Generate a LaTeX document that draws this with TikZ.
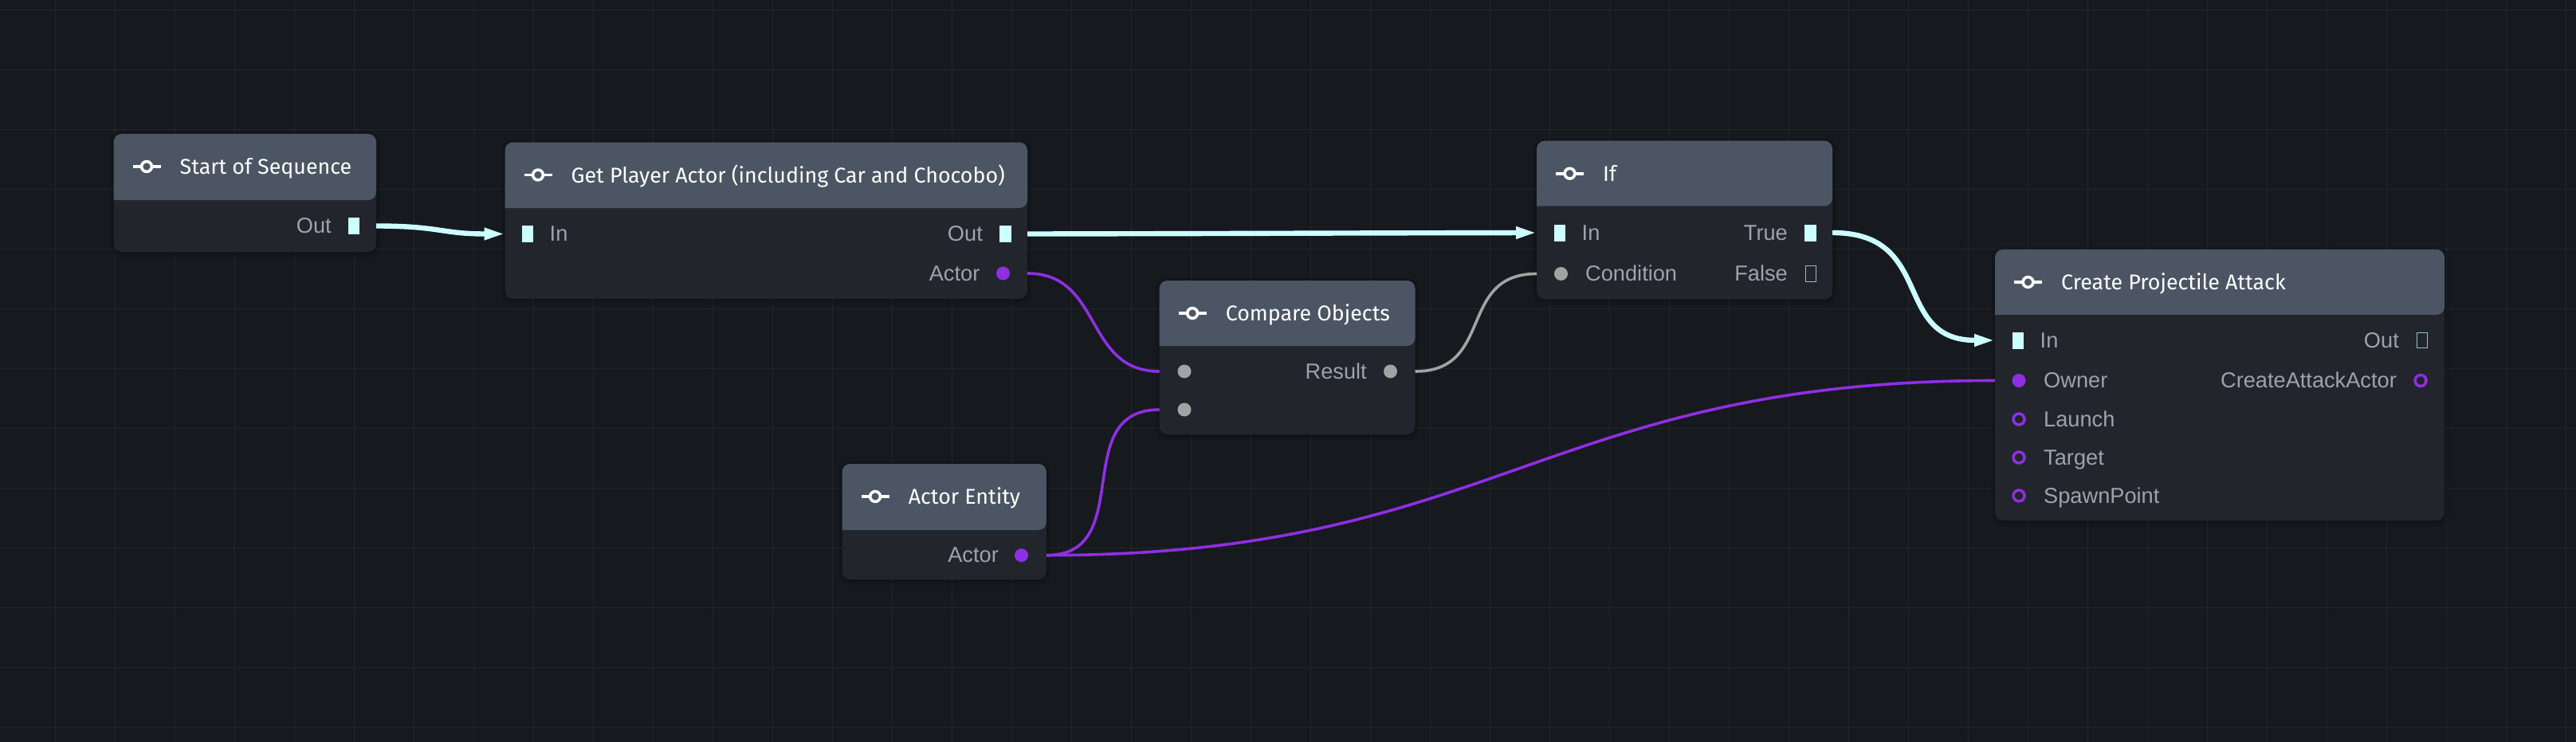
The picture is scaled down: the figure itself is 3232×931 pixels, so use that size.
\documentclass[tikz,border=0pt]{standalone}
\usepackage{fontspec}
\setmainfont{Liberation Sans}
\newfontfamily\titlefont{Fira Sans}
\usetikzlibrary{arrows.meta}
\definecolor{bgc}{HTML}{16191E}
\definecolor{gridc}{HTML}{22262C}
\definecolor{headc}{HTML}{4B5563}
\definecolor{bodyc}{HTML}{22252C}
\definecolor{labelc}{HTML}{9CA3AF}
\definecolor{execc}{HTML}{CCFFFF}
\definecolor{purplec}{HTML}{8F2FE3}
\definecolor{greyc}{HTML}{A3A3A3}
\tikzset{
  x=1pt,y=-1pt,
  titletext/.style={text=white,inner sep=0pt,anchor=base west,font=\titlefont\fontsize{26.8}{30}\selectfont},
  labelL/.style={text=labelc,inner sep=0pt,anchor=base west,font=\fontsize{27.2}{30}\selectfont},
  labelR/.style={text=labelc,inner sep=0pt,anchor=base east,font=\fontsize{27.2}{30}\selectfont},
  execport/.style={fill=execc,draw=none,inner sep=0pt,minimum width=14.5pt,minimum height=21pt,rectangle},
  execopen/.style={fill=none,draw=execc!75!black,line width=1.4pt,inner sep=0pt,minimum width=13pt,minimum height=19.5pt,rectangle},
  dotport/.style={circle,inner sep=0pt,minimum size=17pt,fill=#1,draw=none},
  ringport/.style={circle,inner sep=0pt,minimum size=14pt,draw=#1,line width=3.5pt,fill=none},
  execedge/.style={draw=execc,line width=6.4pt,-{Triangle[length=26pt,width=14pt,fill=execc]}},
  dataedge/.style={draw=#1,line width=3.6pt},
  gridline/.style={gridc,line width=1.2pt},
}
\newcommand{\gnode}[7]{% name, left, top, right, headbottom, bottom, title
  \fill[black,opacity=.10,rounded corners=14pt] (#2-5,#3-3) rectangle (#4+5,#6+7);
  \fill[black,opacity=.10,rounded corners=12pt] (#2-2,#3-1) rectangle (#4+2,#6+3);
  \fill[bodyc,rounded corners=10pt] (#2,#3) rectangle (#4,#6);
  \fill[headc,rounded corners=10pt] (#2,#5) -- (#2,#3) -- (#4,#3) -- (#4,#5) [sharp corners] -- cycle;
  \draw[white,line width=3.6pt] (#2+24,#3+41) -- (#2+59,#3+41);
  \node[circle,fill=headc,draw=white,line width=3.6pt,minimum size=12.8pt,inner sep=0pt] (#1icon) at (#2+41.5,#3+41) {};
  \node[titletext] (#1title) at (#2+83,#3+50.5) {#7};
}
\begin{document}
\begin{tikzpicture}
\useasboundingbox (0,0) rectangle (3232,931);
\fill[bgc] (0,0) rectangle (3232,931);
\foreach \gx in {0,...,42} \draw[gridline] (69.5+75*\gx,0) -- (69.5+75*\gx,931);
\foreach \gy in {0,...,12} \draw[gridline] (0,12.7+75*\gy) -- (3232,12.7+75*\gy);

\gnode{start}{142.5}{168}{472}{251}{316}{Start of Sequence}
\gnode{player}{633.5}{178.5}{1289}{261}{375}{Get Player Actor (including Car and Chocobo)}
\gnode{compare}{1454.6}{352}{1775.5}{434}{545}{Compare Objects}
\gnode{entity}{1056.6}{582}{1312.8}{665}{727}{Actor Entity}
\gnode{iff}{1928}{176.7}{2299}{258.7}{375.7}{If}
\gnode{attack}{2503}{313}{3067}{395}{653}{Create Projectile Attack}

% start
\node[labelR] (l1) at (416,292) {Out};
\node[execport] (p1) at (444,283.5) {};
% player
\node[execport] (p2) at (662,293.5) {};
\node[labelL] (l2) at (689.5,302) {In};
\node[labelR] (l3) at (1233,302) {Out};
\node[execport] (p3) at (1261.5,293.5) {};
\node[labelR] (l4) at (1229.5,352) {Actor};
\node[dotport=purplec] (p4) at (1258.5,343) {};
% compare
\node[dotport=greyc] (p5) at (1486,466) {};
\node[dotport=greyc] (p6) at (1486,514) {};
\node[labelR] (l5) at (1715,475) {Result};
\node[dotport=greyc] (p7) at (1744.5,466) {};
% entity
\node[labelR] (l6) at (1253,705.5) {Actor};
\node[dotport=purplec] (p8) at (1281.5,696.7) {};
% if
\node[execport] (p9) at (1957,292.5) {};
\node[labelL] (l7) at (1984.5,301) {In};
\node[labelR] (l8) at (2243,301) {True};
\node[execport] (p10) at (2271.5,292.5) {};
\node[dotport=greyc] (p11) at (1958.5,343.5) {};
\node[labelL] (l9) at (1989,352) {Condition};
\node[labelR] (l10) at (2243,352) {False};
\node[execopen] (p12) at (2272,343.5) {};
% attack
\node[execport] (p13) at (2532,427) {};
\node[labelL] (l11) at (2559.5,436) {In};
\node[labelR] (l12) at (3010,436) {Out};
\node[execopen] (p14) at (3039,427) {};
\node[dotport=purplec] (p15) at (2533,477.5) {};
\node[labelL] (l13) at (2564,486) {Owner};
\node[labelR] (l14) at (3007,486) {CreateAttackActor};
\node[ringport=purplec] (p16) at (3037,477.5) {};
\node[ringport=purplec] (p17) at (2533,526) {};
\node[labelL] (l15) at (2564,535) {Launch};
\node[ringport=purplec] (p18) at (2533,574) {};
\node[labelL] (l16) at (2564,583) {Target};
\node[ringport=purplec] (p19) at (2533,622) {};
\node[labelL] (l17) at (2564,631) {SpawnPoint};

% connector ends on node edges
\coordinate (startOut) at (472,283.5);
\coordinate (playerIn) at (633.5,293.5);
\coordinate (playerOut) at (1289,293.5);
\coordinate (playerActor) at (1289,343);
\coordinate (cmpA) at (1454.6,466);
\coordinate (cmpB) at (1454.6,514);
\coordinate (cmpOut) at (1775.5,466);
\coordinate (entOut) at (1312.8,696.7);
\coordinate (ifIn) at (1928,292);
\coordinate (ifCond) at (1928,343.5);
\coordinate (ifTrue) at (2299,292);
\coordinate (atkIn) at (2503,427);
\coordinate (atkOwner) at (2503,477.5);

\draw[execedge] (startOut) .. controls +(80,0) and +(-80,0) .. (playerIn);
\draw[execedge] (playerOut) .. controls +(320,-0.5) and +(-320,0.5) .. (ifIn);
\draw[execedge] (ifTrue) .. controls +(130,0) and +(-130,0) .. (atkIn);
\draw[dataedge=purplec] (playerActor) .. controls +(95,0) and +(-95,0) .. (cmpA);
\draw[dataedge=purplec] (entOut) .. controls +(115,0) and +(-115,0) .. (cmpB);
\draw[dataedge=purplec] (entOut) .. controls +(565,0) and +(-565,0) .. (atkOwner);
\draw[dataedge=greyc] (cmpOut) .. controls +(100,0) and +(-100,0) .. (ifCond);
\end{tikzpicture}
\end{document}
